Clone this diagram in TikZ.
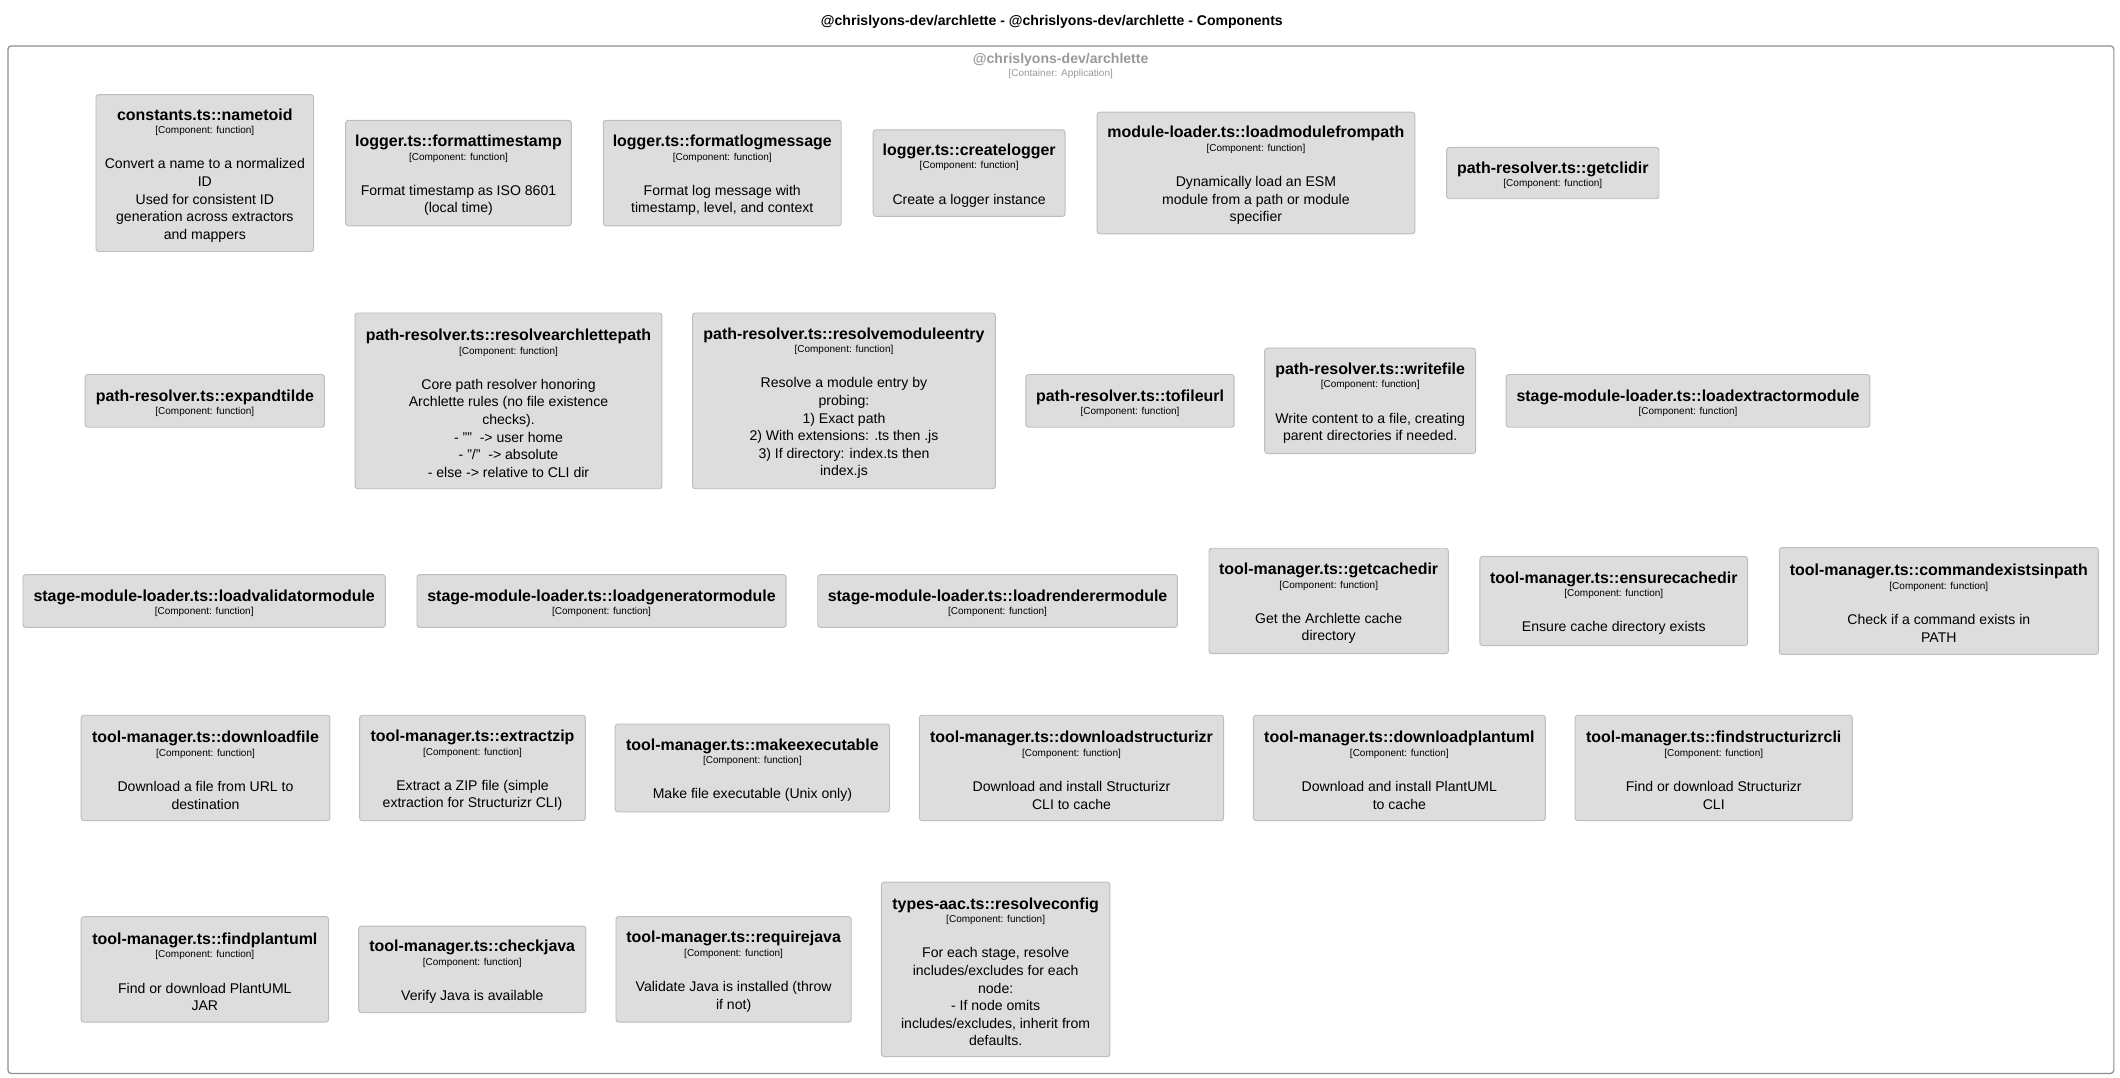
\documentclass[tikz,border=0pt]{standalone}
\usepackage{fontspec}
\setmainfont{Liberation Sans}
\usetikzlibrary{positioning}

\definecolor{fnfill}{HTML}{DDDDDD}
\definecolor{fnline}{HTML}{BDBDBD}
\definecolor{appline}{HTML}{8E8E8E}
\definecolor{apptext}{HTML}{999999}

\newcommand{\headfont}{\bfseries\fontsize{11.8}{13}\selectfont}
\newcommand{\tagfont}{\mdseries\fontsize{7.4}{13}\selectfont}
\newcommand{\fnhead}[1]{{\headfont\rule{0pt}{12pt}#1}\\[-3pt]{\tagfont [Component: function]}}

\begin{document}
\begin{tikzpicture}[x=1pt, y=-1pt,
    fn/.style 2 args={draw=fnline, fill=fnfill, line width=0.7pt, rounded corners=2pt,
        inner sep=0pt, outer sep=0pt, align=center, font=\fontsize{10.4}{13}\selectfont,
        minimum width=#1, minimum height=#2},
    app/.style={draw=appline, line width=0.9pt, rounded corners=2.5pt, inner sep=0pt}]
        \useasboundingbox (0,0) rectangle (1568,796.6);

        \node[font=\bfseries\fontsize{10.4}{12}\selectfont] (title) at (778,16.5) {@chrislyons-dev/archlette - @chrislyons-dev/archlette - Components};
        \node[app, anchor=north west, minimum width=1557.6pt, minimum height=760pt] (app) at (5.4,33.5) {};
        \node[inner sep=0pt, text=apptext, font=\bfseries\fontsize{10.4}{12}\selectfont] (appname) at (784.5,44) {@chrislyons-dev/archlette};
        \node[inner sep=0pt, text=apptext, font=\fontsize{7.4}{9}\selectfont, below=2pt of appname] (apptag) {[Container: Application]};

        % row 1
        \node[fn={161pt}{116pt}, anchor=west] (nametoid) at (71,128) {\fnhead{constants.ts::nametoid}\\[13pt]Convert a name to a normalized\\ID\\Used for consistent ID\\generation across extractors\\and mappers};
        \node[fn={167pt}{78pt}, right=23.6pt of nametoid] (formattimestamp) {\fnhead{logger.ts::formattimestamp}\\[13pt]Format timestamp as ISO 8601\\(local time)};
        \node[fn={176pt}{78pt}, right=23.6pt of formattimestamp] (formatlogmessage) {\fnhead{logger.ts::formatlogmessage}\\[13pt]Format log message with\\timestamp, level, and context};
        \node[fn={142pt}{64pt}, right=23.6pt of formatlogmessage] (createlogger) {\fnhead{logger.ts::createlogger}\\[13pt]Create a logger instance};
        \node[fn={235pt}{90pt}, right=23.6pt of createlogger] (loadmodulefrompath) {\fnhead{module-loader.ts::loadmodulefrompath}\\[13pt]Dynamically load an ESM\\module from a path or module\\specifier};
        \node[fn={157pt}{38pt}, right=23.6pt of loadmodulefrompath] (getclidir) {\fnhead{path-resolver.ts::getclidir}};

        % row 2
        \node[fn={177pt}{39pt}, anchor=west] (expandtilde) at (63,296.5) {\fnhead{path-resolver.ts::expandtilde}};
        \node[fn={227pt}{130pt}, right=22.6pt of expandtilde] (resolvearchlettepath) {\fnhead{path-resolver.ts::resolvearchlettepath}\\[13pt]Core path resolver honoring\\Archlette rules (no file existence\\checks).\\- ""~ -> user home\\- "/"~ -> absolute\\- else -> relative to CLI dir};
        \node[fn={224pt}{130pt}, right=22.6pt of resolvearchlettepath] (resolvemoduleentry) {\fnhead{path-resolver.ts::resolvemoduleentry}\\[13pt]Resolve a module entry by\\probing:\\1) Exact path\\2) With extensions: .ts then .js\\3) If directory: index.ts then\\index.js};
        \node[fn={154pt}{39pt}, right=22.6pt of resolvemoduleentry] (tofileurl) {\fnhead{path-resolver.ts::tofileurl}};
        \node[fn={156pt}{78pt}, right=22.6pt of tofileurl] (writefile) {\fnhead{path-resolver.ts::writefile}\\[13pt]Write content to a file, creating\\parent directories if needed.};
        \node[fn={269pt}{39pt}, right=22.6pt of writefile] (loadextractormodule) {\fnhead{stage-module-loader.ts::loadextractormodule}};

        % row 3
        \node[fn={268pt}{39pt}, anchor=west] (loadvalidatormodule) at (17,444.5) {\fnhead{stage-module-loader.ts::loadvalidatormodule}};
        \node[fn={273pt}{39pt}, right=23.4pt of loadvalidatormodule] (loadgeneratormodule) {\fnhead{stage-module-loader.ts::loadgeneratormodule}};
        \node[fn={266pt}{39pt}, right=23.4pt of loadgeneratormodule] (loadrenderermodule) {\fnhead{stage-module-loader.ts::loadrenderermodule}};
        \node[fn={177pt}{78pt}, right=23.4pt of loadrenderermodule] (getcachedir) {\fnhead{tool-manager.ts::getcachedir}\\[13pt]Get the Archlette cache\\directory};
        \node[fn={198pt}{66pt}, right=23.4pt of getcachedir] (ensurecachedir) {\fnhead{tool-manager.ts::ensurecachedir}\\[13pt]Ensure cache directory exists};
        \node[fn={236pt}{79pt}, right=23.4pt of ensurecachedir] (commandexistsinpath) {\fnhead{tool-manager.ts::commandexistsinpath}\\[13pt]Check if a command exists in\\PATH};

        % row 4
        \node[fn={184pt}{78pt}, anchor=west] (downloadfile) at (60,568) {\fnhead{tool-manager.ts::downloadfile}\\[13pt]Download a file from URL to\\destination};
        \node[fn={167pt}{78pt}, right=22pt of downloadfile] (extractzip) {\fnhead{tool-manager.ts::extractzip}\\[13pt]Extract a ZIP file (simple\\extraction for Structurizr CLI)};
        \node[fn={203pt}{65pt}, right=22pt of extractzip] (makeexecutable) {\fnhead{tool-manager.ts::makeexecutable}\\[13pt]Make file executable (Unix only)};
        \node[fn={225pt}{78pt}, right=22pt of makeexecutable] (downloadstructurizr) {\fnhead{tool-manager.ts::downloadstructurizr}\\[13pt]Download and install Structurizr\\CLI to cache};
        \node[fn={216pt}{78pt}, right=22pt of downloadstructurizr] (downloadplantuml) {\fnhead{tool-manager.ts::downloadplantuml}\\[13pt]Download and install PlantUML\\to cache};
        \node[fn={205pt}{78pt}, right=22pt of downloadplantuml] (findstructurizrcli) {\fnhead{tool-manager.ts::findstructurizrcli}\\[13pt]Find or download Structurizr\\CLI};

        % row 5
        \node[fn={183pt}{78pt}, anchor=west] (findplantuml) at (60,717) {\fnhead{tool-manager.ts::findplantuml}\\[13pt]Find or download PlantUML\\JAR};
        \node[fn={168pt}{64pt}, right=22.3pt of findplantuml] (checkjava) {\fnhead{tool-manager.ts::checkjava}\\[13pt]Verify Java is available};
        \node[fn={174pt}{78pt}, right=22.3pt of checkjava] (requirejava) {\fnhead{tool-manager.ts::requirejava}\\[13pt]Validate Java is installed (throw\\if not)};
        \node[fn={169pt}{129pt}, right=22.3pt of requirejava] (resolveconfig) {\fnhead{types-aac.ts::resolveconfig}\\[13pt]For each stage, resolve\\includes/excludes for each\\node:\\- If node omits\\includes/excludes, inherit from\\defaults.};
\end{tikzpicture}
\end{document}
